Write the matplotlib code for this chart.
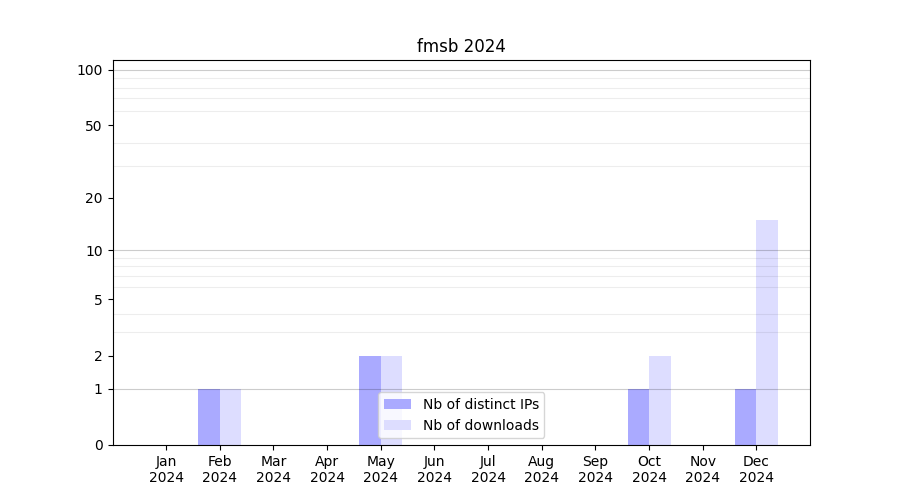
import numpy as np
import matplotlib
matplotlib.use("Agg")
import matplotlib.pyplot as plt
from matplotlib.ticker import FixedLocator

months = ["Jan", "Feb", "Mar", "Apr", "May", "Jun",
          "Jul", "Aug", "Sep", "Oct", "Nov", "Dec"]
year = "2024"
distinct_ips = [0, 1, 0, 0, 2, 0, 0, 0, 0, 1, 0, 1]
downloads = [0, 1, 0, 0, 2, 0, 0, 0, 0, 2, 0, 15]

major_ticks = [0, 1, 2, 5, 10, 20, 50, 100]
decade_lines = [1, 10, 100]
minor_lines = [2, 3, 4, 5, 6, 7, 8, 9, 20, 30, 40, 50, 60, 70, 80, 90]


def forward(y):
    return np.log10(1 + np.asarray(y, dtype=float))


def inverse(y):
    return 10 ** np.asarray(y, dtype=float) - 1


fig, ax = plt.subplots(figsize=(9, 5), dpi=100)
x = np.arange(len(months))
width = 0.4

ax.bar(x - width, distinct_ips, width, align="edge", color="#aaaaff",
       label="Nb of distinct IPs", zorder=1)
ax.bar(x, downloads, width, align="edge", color="#ddddff",
       label="Nb of downloads", zorder=1)

ax.set_yscale("function", functions=(forward, inverse))
ax.set_ylim(0, 113)
ax.set_xlim(-1, 12)

ax.yaxis.set_major_locator(FixedLocator(major_ticks))
ax.set_yticklabels([str(t) for t in major_ticks])
ax.yaxis.set_minor_locator(FixedLocator(minor_lines))
ax.tick_params(axis="y", which="minor", length=0)
ax.grid(True, axis="y", which="minor", color="black", alpha=0.07,
        linewidth=0.8, zorder=2)
for v in decade_lines:
    ax.axhline(v, color="black", alpha=0.2, linewidth=0.8, zorder=2)

ax.set_xticks(x)
ax.set_xticklabels([f"{m}\n{year}" for m in months])

ax.set_title("fmsb 2024")
ax.legend(loc="lower center")

fig.savefig("out.png")
